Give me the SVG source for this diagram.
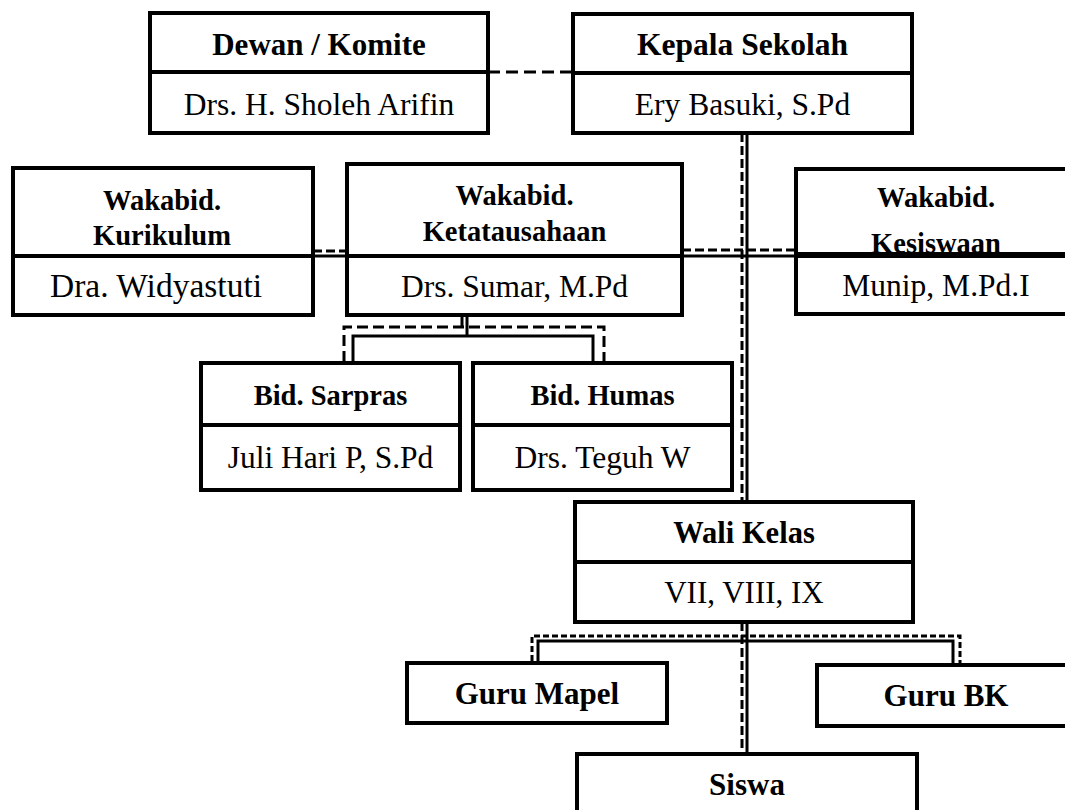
<svg xmlns="http://www.w3.org/2000/svg" width="1065" height="810" viewBox="0 0 1065 810">
<style>
.box{fill:#fff;stroke:#000;stroke-width:4}
.div{stroke:#000;stroke-width:4;fill:none}
.b{font-family:"Liberation Serif","Times New Roman",serif;font-weight:bold;text-anchor:middle;fill:#000}
.r{font-family:"Liberation Serif","Times New Roman",serif;text-anchor:middle;fill:#000}
.s{stroke:#000;stroke-width:3;fill:none}
.d{stroke:#000;stroke-width:3;fill:none;stroke-dasharray:9 4}
</style>
<rect width="1065" height="810" fill="#fff"/>
<g id="connectors">
<path class="d" d="M488,72 H573" style="stroke-dasharray:12 6"/>
<path class="d" d="M742,133 V502 M742,622 V754"/>
<path class="s" d="M747,133 V502 M747,622 V754"/>
<path class="d" d="M313,251 H347 M682,250 H796"/>
<path class="s" d="M313,256 H347 M682,256 H796"/>
<path class="d" d="M462,315 V327 M344,362 V327 H604 V362" style="stroke-dasharray:11 5"/>
<path class="s" d="M467,315 V336 M353,363 V336 H593 V363"/>
<path class="d" d="M532,661 V636 H960 V663" style="stroke-dasharray:6 3"/>
<path class="s" d="M538,663 V641 H953 V665"/>
</g>
<g id="dewan">
<rect class="box" x="150" y="13" width="338" height="120"/>
<path class="div" d="M150,72 H488"/>
<text class="b" x="319" y="55" font-size="31">Dewan / Komite</text>
<text class="r" x="319" y="115" font-size="31.5">Drs. H. Sholeh Arifin</text>
</g>
<g id="kepala">
<rect class="box" x="573" y="14" width="339" height="119"/>
<path class="div" d="M573,73 H912"/>
<text class="b" x="742.5" y="55" font-size="31.5">Kepala Sekolah</text>
<text class="r" x="742.5" y="115" font-size="31.5">Ery Basuki, S.Pd</text>
</g>
<g id="kurikulum">
<rect class="box" x="13" y="168" width="300" height="147"/>
<path class="div" d="M13,256 H313"/>
<text class="b" x="162" y="210" font-size="28.5">Wakabid.</text>
<text class="b" x="162" y="245" font-size="28.5">Kurikulum</text>
<text class="r" x="156" y="297" font-size="33.5">Dra. Widyastuti</text>
</g>
<g id="ketatausahaan">
<rect class="box" x="347" y="164" width="335" height="151"/>
<path class="div" d="M347,256 H682"/>
<text class="b" x="514.5" y="205" font-size="28.5">Wakabid.</text>
<text class="b" x="514.5" y="241" font-size="28.5">Ketatausahaan</text>
<text class="r" x="514.5" y="297" font-size="31.5">Drs. Sumar, M.Pd</text>
</g>
<g id="kesiswaan">
<rect class="box" x="796" y="169" width="285" height="145"/>
<text class="b" x="936" y="207" font-size="28.5">Wakabid.</text>
<text class="b" x="936" y="253" font-size="28.5">Kesiswaan</text>
<path class="div" d="M796,255 H1065" style="stroke-width:6"/>
<text class="r" x="936" y="296" font-size="31.5">Munip, M.Pd.I</text>
</g>
<g id="sarpras">
<rect class="box" x="201" y="363" width="259" height="127"/>
<path class="div" d="M201,425 H460"/>
<text class="b" x="330.5" y="405" font-size="28.5">Bid. Sarpras</text>
<text class="r" x="330.5" y="468" font-size="31.5">Juli Hari P, S.Pd</text>
</g>
<g id="humas">
<rect class="box" x="473" y="363" width="259" height="127"/>
<path class="div" d="M473,425 H732"/>
<text class="b" x="602.5" y="405" font-size="28.5">Bid. Humas</text>
<text class="r" x="602.5" y="468" font-size="31.5">Drs. Teguh W</text>
</g>
<g id="walikelas">
<rect class="box" x="575" y="502" width="338" height="120"/>
<path class="div" d="M575,562 H913"/>
<text class="b" x="744" y="543" font-size="30.5">Wali Kelas</text>
<text class="r" x="744" y="603" font-size="31">VII, VIII, IX</text>
</g>
<g id="gurumapel">
<rect class="box" x="407" y="663" width="260" height="60"/>
<text class="b" x="537" y="704" font-size="31">Guru Mapel</text>
</g>
<g id="gurubk">
<rect class="box" x="817" y="665" width="260" height="61"/>
<text class="b" x="946" y="706" font-size="31">Guru BK</text>
</g>
<g id="siswa">
<rect class="box" x="577" y="754" width="340" height="70"/>
<text class="b" x="747" y="795" font-size="31">Siswa</text>
</g>
</svg>
